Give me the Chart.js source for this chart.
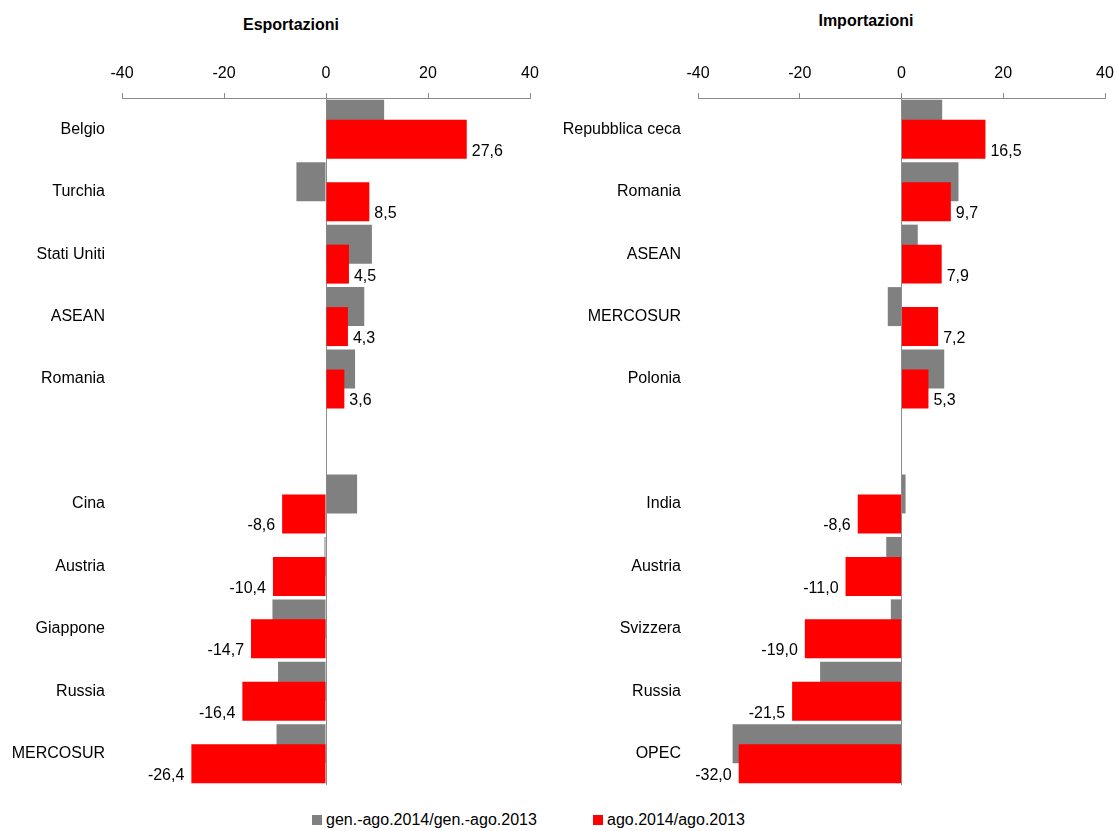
<!DOCTYPE html>
<html>
<head>
<meta charset="utf-8">
<script src="https://cdn.jsdelivr.net/npm/chart.js@4.4.1/dist/chart.umd.min.js"></script>
<style>
  body { margin: 0; width: 1117px; height: 831px; overflow: hidden; background: #fff;
         font-family: 'Liberation Sans', Arial, sans-serif; color: #000; }
  .panel { position: absolute; top: 0; height: 800px; }
  .title { position: absolute; font-weight: bold; font-size: 16px; line-height: 20px;
           transform: translateX(-50%); white-space: nowrap; }
  .legend { position: absolute; top: 810px; font-size: 16px; line-height: 20px; white-space: nowrap; }
  .legend .box { display: inline-block; width: 10px; height: 10px; margin-right: 4px; }
</style>
</head>
<body>
<div class="title" style="left:291px; top:15px;">Esportazioni</div>
<div class="title" style="left:866px; top:11px;">Importazioni</div>
<div class="panel" style="left:0; width:560px;"><canvas id="exportChart"></canvas></div>
<div class="panel" style="left:557px; width:560px;"><canvas id="importChart"></canvas></div>
<div class="legend" style="left:312px;"><span class="box" style="background:#808080"></span>gen.-ago.2014/gen.-ago.2013</div>
<div class="legend" style="left:593px;"><span class="box" style="background:#ff0000"></span>ago.2014/ago.2013</div>

<script>
// categories (empty label = gap between the top and bottom groups)
const exportLabels = ['Belgio', 'Turchia', 'Stati Uniti', 'ASEAN', 'Romania', '', 'Cina', 'Austria', 'Giappone', 'Russia', 'MERCOSUR'];
const importLabels = ['Repubblica ceca', 'Romania', 'ASEAN', 'MERCOSUR', 'Polonia', '', 'India', 'Austria', 'Svizzera', 'Russia', 'OPEC'];

// gen.-ago.2014/gen.-ago.2013 (grey)
const exportYear = [11.4, -5.8, 9.0, 7.5, 5.7, null, 6.1, -0.3, -10.5, -9.4, -9.7];
const importYear = [8.0, 11.2, 3.2, -2.7, 8.4, null, 0.8, -3.0, -2.1, -16.0, -33.2];

// ago.2014/ago.2013 (red)
const exportMonth = [27.6, 8.5, 4.5, 4.3, 3.6, null, -8.6, -10.4, -14.7, -16.4, -26.4];
const importMonth = [16.5, 9.7, 7.9, 7.2, 5.3, null, -8.6, -11.0, -19.0, -21.5, -32.0];

const axisTicks = [-40, -20, 0, 20, 40];

const FONT = "'Liberation Sans', Arial, sans-serif";
Chart.defaults.font.family = FONT;
Chart.defaults.font.size = 16;
Chart.defaults.color = '#000';

// red bars go over the grey ones (Chart.js would paint dataset 0 last),
// then the red values are written next to the end of each bar
const redOnTop = {
	id: 'redOnTop',
	beforeDatasetDraw(chart, args) {
		if (args.index === 1) return false;
	},
	afterDatasetsDraw(chart) {
		const meta = chart.getDatasetMeta(1);
		meta.controller.draw();

		const ctx = chart.ctx;
		const values = chart.data.datasets[1].data;
		ctx.save();
		ctx.font = '16px ' + FONT;
		ctx.fillStyle = '#000';
		ctx.textBaseline = 'middle';
		meta.data.forEach((bar, i) => {
			const v = values[i];
			if (v === null) return;
			const neg = v < 0;
			ctx.textAlign = neg ? 'right' : 'left';
			ctx.fillText(v.toFixed(1).replace('.', ','), bar.x + (neg ? -7 : 5), bar.y + 12);
		});
		ctx.restore();
	}
};

function makeChart(id, labels, year, month, axisWidth, padRight) {
	return new Chart(document.getElementById(id), {
		type: 'bar',
		data: {
			labels: labels,
			datasets: [
				{ label: 'gen.-ago.2014/gen.-ago.2013', data: year, backgroundColor: '#808080' },
				{ label: 'ago.2014/ago.2013', data: month, backgroundColor: '#ff0000' }
			]
		},
		options: {
			indexAxis: 'y',
			responsive: true,
			maintainAspectRatio: false,
			animation: false,
			categoryPercentage: 0.64,
			barPercentage: 1.95,
			layout: { padding: { left: 0, right: padRight, top: 0, bottom: 15 } },
			plugins: {
				legend: { display: false },
				tooltip: { enabled: false }
			},
			scales: {
				x: {
					position: 'top',
					min: -40,
					max: 40,
					afterBuildTicks: (scale) => { scale.ticks = axisTicks.map(v => ({ value: v })); },
					afterFit: (scale) => {
						scale.height = 98;
						scale.paddingLeft = 0;
						scale.paddingRight = 0;
					},
					ticks: { padding: 10, callback: (v) => String(v) },
					border: { display: true, color: '#8c8c8c', width: 1 },
					grid: {
						drawTicks: true,
						tickLength: 5,
						tickColor: '#8c8c8c',
						color: (c) => (c.tick && c.tick.value === 0 ? '#8c8c8c' : 'rgba(0,0,0,0)')
					}
				},
				y: {
					afterFit: (scale) => {
						scale.width = axisWidth;
						scale.paddingTop = 0;
						scale.paddingBottom = 0;
					},
					ticks: { padding: 17 },
					border: { display: false },
					grid: { display: false, drawTicks: false }
				}
			}
		},
		plugins: [redOnTop]
	});
}

makeChart('exportChart', exportLabels, exportYear, exportMonth, 122, 30);
makeChart('importChart', importLabels, importYear, importMonth, 141, 12);
</script>
</body>
</html>
